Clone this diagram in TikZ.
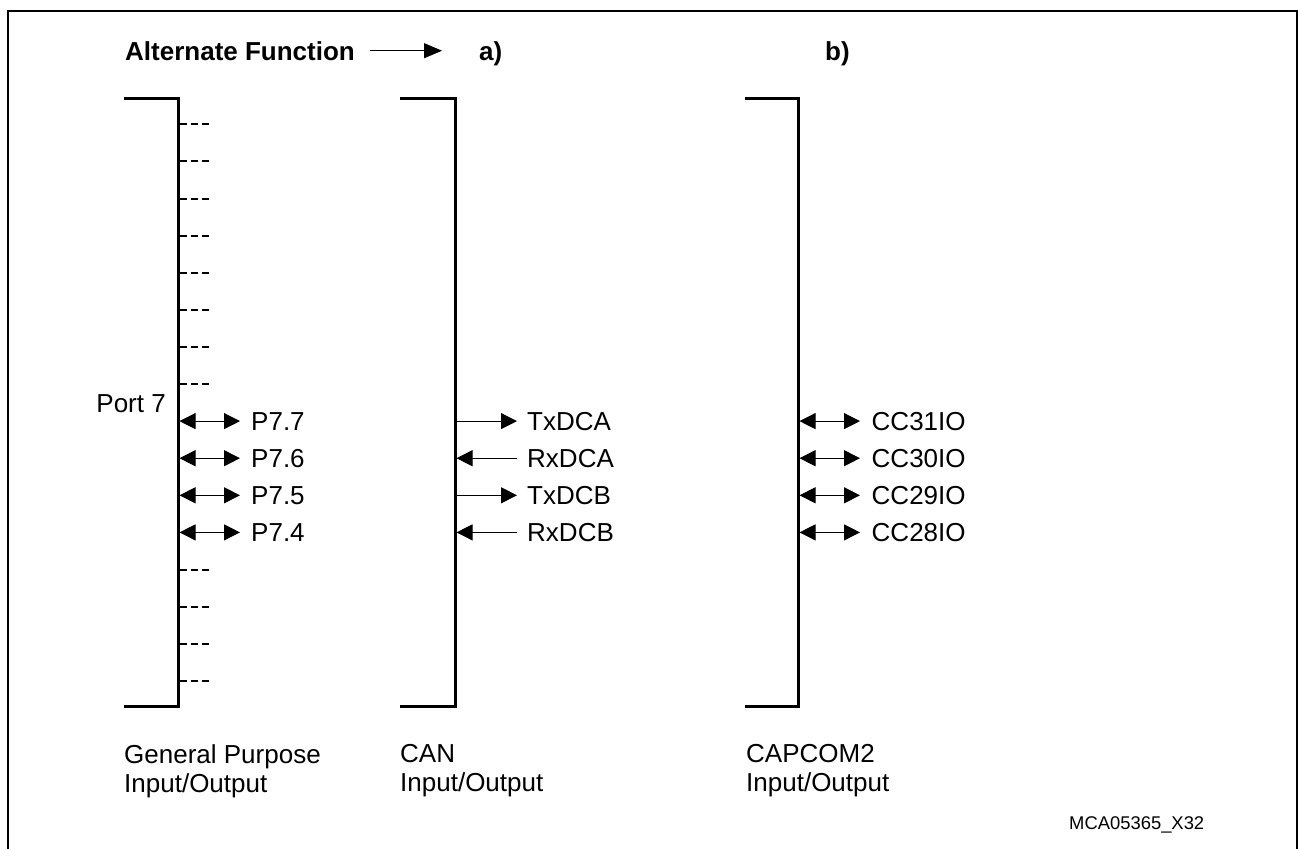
\documentclass[tikz,border=0pt]{standalone}
\usepackage{fontspec}
\setmainfont{Liberation Sans}
\usetikzlibrary{arrows.meta}
\begin{document}
\begin{tikzpicture}[x=1pt,y=-1pt,
  frame/.style={line width=2pt},
  bracket/.style={line width=3pt, line join=miter},
  dashstub/.style={line width=2pt, dash pattern=on 7.5pt off 3.5pt},
  lab/.style={anchor=west, inner sep=0pt, font=\fontsize{26}{29}\selectfont, text height=18.6pt, text depth=0pt},
  hdr/.style={inner sep=0pt, font=\fontsize{26}{29}\selectfont\bfseries, text height=18.6pt, text depth=0pt},
  foot/.style={anchor=north west, inner sep=0pt, align=left, font=\fontsize{26}{29}\selectfont},
  sig/.style={line width=1pt},
  txarrow/.style={sig, -{Triangle[length=16pt,width=16pt]}},
  rxarrow/.style={sig, {Triangle[length=16pt,width=16pt]}-},
  bidir/.style={sig, {Triangle[length=16pt,width=16pt]}-{Triangle[length=16pt,width=16pt]}}
]
\path[use as bounding box] (0,0) rectangle (1298,849);
% outer frame
\draw[frame] (8,849) -- (8,11) -- (1297,11) -- (1297,849);

% header
\node[hdr, anchor=base west] (alt) at (125,60) {Alternate Function};
\node[hdr, anchor=base west] (fa) at (479,60) {a)};
\node[hdr, anchor=base west] (fb) at (825,60) {b)};
\draw[sig, -{Triangle[length=18pt,width=15pt]}] ([xshift=15pt]alt.east) -- ([xshift=-37pt]fa.west);

% brackets
\draw[bracket] (124,98) -- (178,98) -- (178,706) -- (124,706);
\draw[bracket] (400,98) -- (455,98) -- (455,706) -- (400,706);
\draw[bracket] (745,98) -- (798,98) -- (798,706) -- (745,706);

% unused port pins (dashed stubs)
\foreach \i in {0,...,7,12,13,14,15} {
  \coordinate (d\i) at (179.5,{124.3+37.1*\i});
  \coordinate (e\i) at (210,{124.3+37.1*\i});
  \draw[dashstub] (d\i) -- (e\i);
}

% Port 7 label
\node[anchor=base east, inner sep=0pt, font=\fontsize{26}{29}\selectfont] (port) at (166,412) {Port 7};

% GPIO pins
\foreach \i/\t in {8/P7.7, 9/P7.6, 10/P7.5, 11/P7.4} {
  \coordinate (p\i) at (179.5,{124.3+37.1*\i});
  \node[lab] (pl\i) at (251,{124.3+37.1*\i}) {\t};
  \draw[bidir, shorten >=11pt] (p\i) -- (pl\i.west);
}

% CAN pins
\foreach \i/\t/\s in {8/TxDCA/txarrow, 9/RxDCA/rxarrow, 10/TxDCB/txarrow, 11/RxDCB/rxarrow} {
  \coordinate (c\i) at (456.5,{124.3+37.1*\i});
  \node[lab] (cl\i) at (527,{124.3+37.1*\i}) {\t};
  \draw[\s, shorten >=10pt] (c\i) -- (cl\i.west);
}

% CAPCOM2 pins
\foreach \i/\t in {8/CC31IO, 9/CC30IO, 10/CC29IO, 11/CC28IO} {
  \coordinate (k\i) at (799.5,{124.3+37.1*\i});
  \node[lab] (kl\i) at (871.5,{124.3+37.1*\i}) {\t};
  \draw[bidir, shorten >=11.5pt] (k\i) -- (kl\i.west);
}

% footers
\node[foot] (fg) at (124,744) {General Purpose\\Input/Output};
\node[foot] (fc) at (400,744) {CAN\\Input/Output};
\node[foot] (fk) at (746,744) {CAPCOM2\\Input/Output};

\node[anchor=base west, inner sep=0pt, font=\fontsize{18.4}{22}\selectfont] (id) at (1069,829.5) {MCA05365\_X32};
\end{tikzpicture}
\end{document}
